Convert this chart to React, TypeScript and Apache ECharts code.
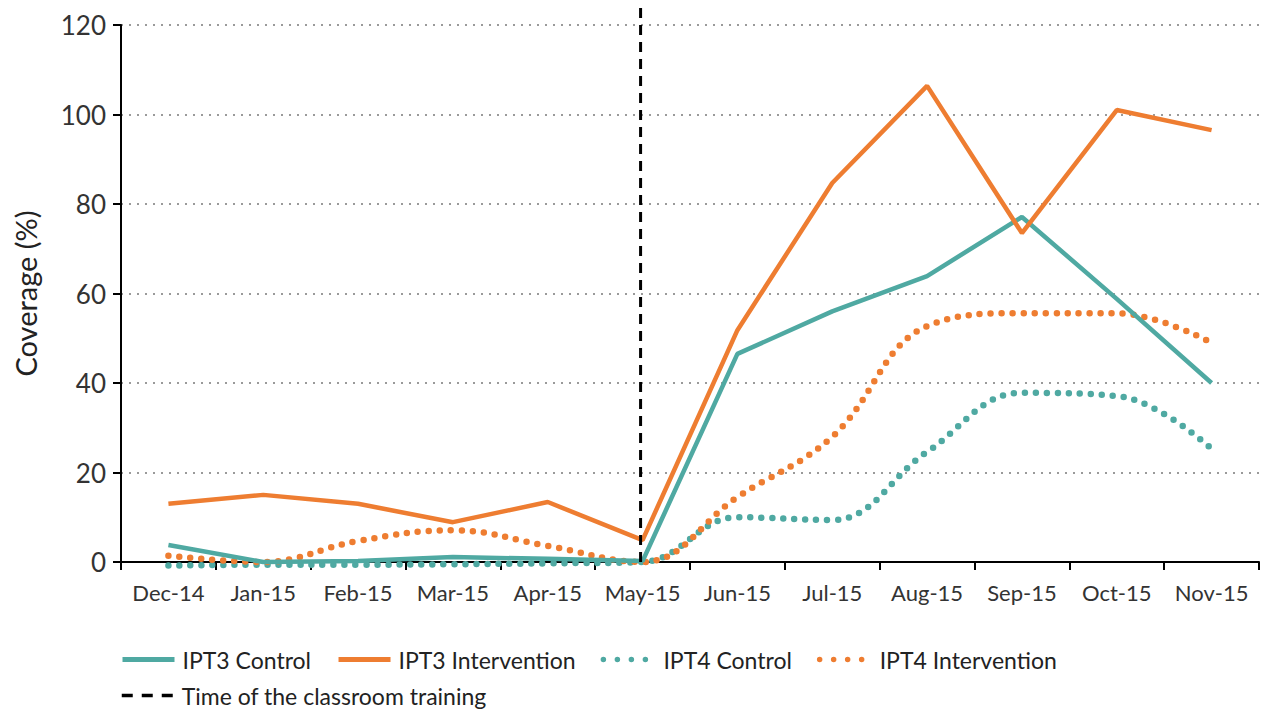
import React, { useEffect, useRef } from "react";
import * as echarts from "echarts";

const categories = ["Dec-14", "Jan-15", "Feb-15", "Mar-15", "Apr-15", "May-15", "Jun-15", "Jul-15", "Aug-15", "Sep-15", "Oct-15", "Nov-15"];
const ipt3Control = [3.8, 0, 0.2, 1.1, 0.7, 0.2, 46.5, 56, 63.9, 77.1, 58.8, 40];
const ipt3Intervention = [13, 15, 13, 8.9, 13.4, 4.9, 51.8, 84.7, 106.4, 73.5, 101, 96.5];
const ipt4Control = [-0.8, -0.6, -0.6, -0.5, -0.3, 0, 10, 9.4, 24.6, 37.8, 37.1, 25.3];
const ipt4Intervention = [1.4, 0, 4.7, 7.1, 3.6, 0, 14.5, 28, 52.7, 55.6, 55.6, 49];
const trainingMonth = "May-15";
const trainingLineTop = 124;
const yTicks = { min: 0, max: 120, interval: 20 };

const TEAL = "#4fa9a2";
const ORANGE = "#ee7d31";
const FONT = "Lato";

export default function App() {
  const ref = useRef<HTMLDivElement>(null);
  useEffect(() => {
    if (!ref.current) return;
    const chart = echarts.init(ref.current, undefined, { renderer: "svg" });
    const dotted = (color: string) => ({ color, width: 6.5, type: [0, 11] as number[], cap: "round" as const });
    const legendCommon = {
      left: 115,
      itemWidth: 52,
      itemHeight: 14,
      itemGap: 25,
      itemStyle: { opacity: 0 },
      textStyle: { fontSize: 23, color: "#222", fontFamily: FONT, padding: [0, 0, 0, 3] },
    };
    chart.setOption({
      animation: false,
      backgroundColor: "#ffffff",
      textStyle: { fontFamily: FONT },
      grid: { left: 121, right: 5, top: 25, bottom: 147, containLabel: false, outerBoundsMode: "none" },
      xAxis: {
        type: "category",
        data: categories,
        boundaryGap: true,
        axisLine: { lineStyle: { color: "#000", width: 2 } },
        axisTick: { show: true, length: 8, lineStyle: { color: "#000", width: 2 } },
        axisLabel: { color: "#333", fontSize: 22, margin: 19, fontFamily: FONT, interval: 0 },
        splitLine: { show: false },
      },
      yAxis: {
        type: "value",
        min: yTicks.min,
        max: yTicks.max,
        interval: yTicks.interval,
        name: "Coverage (%)",
        nameLocation: "middle",
        nameGap: 81,
        nameTextStyle: { color: "#222", fontSize: 29, fontFamily: FONT },
        axisLine: { show: true, lineStyle: { color: "#000", width: 2 } },
        axisTick: { show: true, length: 8, lineStyle: { color: "#000", width: 2 } },
        axisLabel: { color: "#333", fontSize: 26, margin: 15, fontFamily: FONT },
        splitLine: {
          show: true,
          showMinLine: false,
          lineStyle: { color: "#9a9a9a", width: 2, type: [2, 6] },
        },
      },
      legend: [
        {
          ...legendCommon,
          top: 643,
          data: [
            { name: "IPT3 Control", lineStyle: { width: 5 } },
            { name: "IPT3 Intervention", lineStyle: { width: 5 } },
            { name: "IPT4 Control", lineStyle: { type: [0, 14], width: 5.5, cap: "round" } },
            { name: "IPT4 Intervention", lineStyle: { type: [0, 14], width: 5.5, cap: "round" } },
          ],
        },
        {
          ...legendCommon,
          top: 679,
          data: [{ name: "Time of the classroom training", lineStyle: { type: [11, 9], width: 3.5 } }],
        },
      ],
      series: [
        {
          name: "IPT3 Control",
          type: "line",
          data: ipt3Control,
          symbol: "none",
          lineStyle: { color: TEAL, width: 4.5 },
          itemStyle: { color: TEAL },
          clip: false,
          z: 3,
        },
        {
          name: "IPT3 Intervention",
          type: "line",
          data: ipt3Intervention,
          symbol: "none",
          lineStyle: { color: ORANGE, width: 4.5 },
          itemStyle: { color: ORANGE },
          clip: false,
          z: 3,
        },
        {
          name: "IPT4 Control",
          type: "line",
          data: ipt4Control,
          symbol: "none",
          smooth: 0.4,
          lineStyle: dotted(TEAL),
          itemStyle: { color: TEAL },
          clip: false,
          z: 2,
        },
        {
          name: "IPT4 Intervention",
          type: "line",
          data: ipt4Intervention,
          symbol: "none",
          smooth: 0.4,
          lineStyle: dotted(ORANGE),
          itemStyle: { color: ORANGE },
          clip: false,
          z: 2,
        },
        {
          name: "Time of the classroom training",
          type: "line",
          data: categories.map(() => null),
          symbol: "none",
          lineStyle: { color: "#000", width: 3, type: [10, 7] },
          itemStyle: { color: "#000" },
          z: 1,
        },
      ],
    });
    const p0 = chart.convertToPixel({ gridIndex: 0 }, [trainingMonth, 0]) as number[];
    const p1 = chart.convertToPixel({ gridIndex: 0 }, [trainingMonth, trainingLineTop]) as number[];
    chart.setOption({
      graphic: [
        {
          type: "line",
          z: 100,
          silent: true,
          shape: { x1: p0[0] - 2, y1: p0[1], x2: p1[0] - 2, y2: p1[1] },
          style: { stroke: "#000", lineWidth: 3, lineDash: [10, 7] },
        },
      ],
    });
    return () => chart.dispose();
  }, []);
  return <div ref={ref} style={{ position: "absolute", left: 0, top: 0, width: 1264, height: 709 }} />;
}
